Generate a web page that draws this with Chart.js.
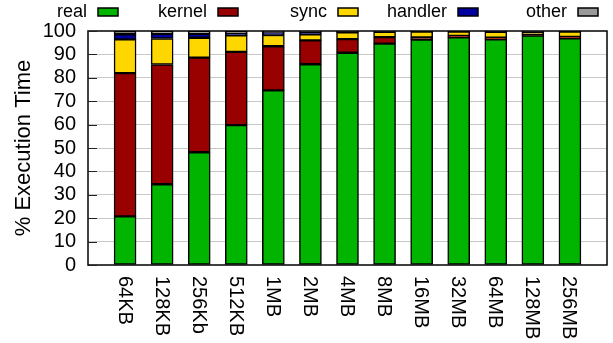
<!DOCTYPE html>
<html>
<head>
<meta charset="utf-8">
<script src="https://cdn.jsdelivr.net/npm/chart.js@4.4.1/dist/chart.umd.min.js"></script>
<style>
  html, body { margin: 0; padding: 0; background: #fff; }
  #wrap { width: 613px; height: 343px; }
</style>
</head>
<body>
<div id="wrap"><canvas id="chart" width="613" height="343"></canvas></div>
<script>
const sizes = ['64KB', '128KB', '256Kb', '512KB', '1MB', '2MB', '4MB', '8MB', '16MB', '32MB', '64MB', '128MB', '256MB'];

// percentage of execution time per buffer size
const real    = [20.8, 34.5, 48.2, 59.8, 74.6, 85.8, 90.7, 94.6, 96.3, 97.3, 96.4, 98.0, 96.9];
const kernel  = [61.2, 51.2, 40.4, 31.3, 18.9, 10.2, 5.8, 2.8, 1.0, 0.6, 0.7, 0.4, 0.6];
const sync    = [14.4, 11.1, 8.5, 7.0, 4.8, 2.6, 2.9, 2.2, 2.4, 1.8, 2.5, 1.1, 2.2];
const handler = [2.2, 2.0, 1.7, 0.8, 0.9, 0.9, 0.3, 0.2, 0.2, 0.2, 0.3, 0.3, 0.2];
const other   = [1.4, 1.2, 1.2, 1.1, 0.8, 0.5, 0.3, 0.2, 0.1, 0.1, 0.1, 0.2, 0.1];

const yTicks = [0, 10, 20, 30, 40, 50, 60, 70, 80, 90, 100];

const FONT = "'Liberation Sans', Arial, Helvetica, sans-serif";

const series = [
  { label: 'real', data: real, color: '#00b400' },
  { label: 'kernel', data: kernel, color: '#990000' },
  { label: 'sync', data: sync, color: '#ffd700' },
  { label: 'handler', data: handler, color: '#0000a0' },
  { label: 'other', data: other, color: '#999999' },
];

// gnuplot-like key (text then box), frame, inner ticks and rotated x labels
const decorations = {
  id: 'decorations',
  afterDatasetsDraw(chart) {
    const { ctx, chartArea } = chart;
    const x = chart.scales.x;
    const y = chart.scales.y;

    ctx.save();
    ctx.strokeStyle = '#000';
    ctx.lineWidth = 1.5;
    ctx.strokeRect(chartArea.left, chartArea.top, chartArea.right - chartArea.left, chartArea.bottom - chartArea.top);

    ctx.strokeStyle = '#222';
    ctx.lineWidth = 1;
    yTicks.forEach(v => {
      const py = Math.round(y.getPixelForValue(v)) + 0.5;
      ctx.beginPath();
      ctx.moveTo(chartArea.left, py);
      ctx.lineTo(chartArea.left + 9, py);
      ctx.stroke();
    });

    ctx.fillStyle = '#000';
    ctx.font = '20px ' + FONT;
    ctx.textAlign = 'left';
    ctx.textBaseline = 'middle';
    sizes.forEach((s, i) => {
      ctx.save();
      ctx.translate(x.getPixelForValue(i), 276);
      ctx.rotate(Math.PI / 2);
      ctx.fillText(s, 0, 1);
      ctx.restore();
    });

    ctx.font = '18px ' + FONT;
    ctx.textAlign = 'right';
    ctx.textBaseline = 'alphabetic';
    chart.data.datasets.forEach((ds, i) => {
      const boxLeft = 98 + i * 120;
      ctx.fillStyle = '#000';
      ctx.fillText(ds.label, boxLeft - 11, 17);
      ctx.fillStyle = ds.backgroundColor;
      ctx.fillRect(boxLeft, 8, 20, 8);
      ctx.lineWidth = 1.5;
      ctx.strokeStyle = '#000';
      ctx.strokeRect(boxLeft, 8, 20, 8);
    });
    ctx.restore();
  }
};

new Chart(document.getElementById('chart'), {
  type: 'bar',
  data: {
    datasets: series.map(s => ({
      label: s.label,
      data: s.data.map((v, i) => ({ x: i, y: v })),
      backgroundColor: s.color,
      borderColor: '#000',
      borderWidth: 1.5,
      borderSkipped: false,
      barThickness: 22,
    })),
  },
  options: {
    responsive: false,
    animation: false,
    layout: { padding: { top: 31, right: 6, left: 0, bottom: 0 } },
    plugins: {
      legend: { display: false },
      tooltip: { enabled: false },
    },
    scales: {
      x: {
        type: 'linear',
        stacked: true,
        offset: false,
        min: -1,
        max: 13,
        grid: { display: false, offset: false },
        border: { display: false },
        ticks: { display: false },
        afterFit(scale) { scale.height = 78; },
      },
      y: {
        stacked: true,
        min: 0,
        max: 100,
        afterBuildTicks(scale) { scale.ticks = yTicks.map(v => ({ value: v })); },
        grid: {
          color: ctx => (ctx.tick && (ctx.tick.value === 0 || ctx.tick.value === 100)) ? 'rgba(0,0,0,0)' : '#c8c8c8',
          lineWidth: 1,
          drawTicks: false,
        },
        border: { display: false },
        ticks: {
          color: '#000',
          autoSkip: false,
          font: { family: FONT, size: 20 },
          padding: 12,
        },
        title: {
          display: true,
          text: '% Execution Time',
          color: '#000',
          font: { family: FONT, size: 22 },
          padding: { top: 11, bottom: 0 },
        },
        afterFit(scale) { scale.width = 88; },
      },
    },
  },
  plugins: [decorations],
});
</script>
</body>
</html>
